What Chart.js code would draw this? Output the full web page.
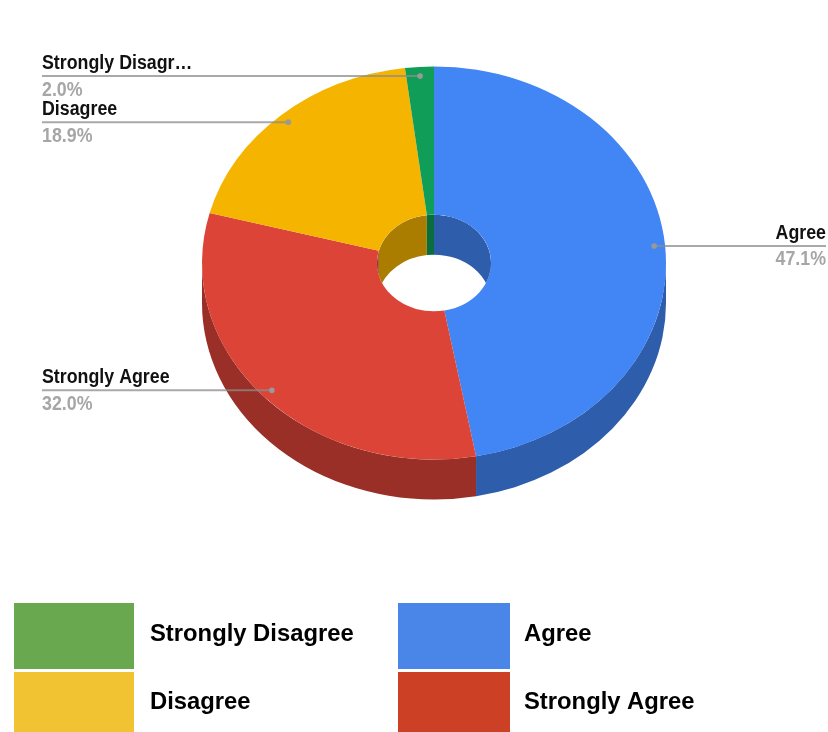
<!DOCTYPE html>
<html>
<head>
<meta charset="utf-8">
<title>Survey responses</title>
<script src="https://cdn.jsdelivr.net/npm/chart.js@4"></script>
<style>
  html, body { margin: 0; padding: 0; background: #fff; }
  canvas { display: block; }
</style>
</head>
<body>
<canvas id="pie" width="828" height="732"></canvas>
<script>
const categories = ['Agree', 'Strongly Agree', 'Disagree', 'Strongly Disagree'];
const calloutLabels = ['Agree', 'Strongly Agree', 'Disagree', 'Strongly Disagr\u2026'];
const percents = [47.1, 32.0, 18.9, 2.0];
const sliceColors = ['#4285f4', '#db4437', '#f4b400', '#0f9d58'];
const wallColors = ['#2e5dab', '#992f26', '#aa7d00', '#0a6d3d'];
const legendColors = ['#4a86e8', '#cc4125', '#f1c232', '#6aa84f'];

const TILT = 0.847;
const DEPTH = 40;
const FONT = '"Liberation Sans", Arial, sans-serif';

function arcProps(chart) {
  return chart.getDatasetMeta(0).data.map(a =>
    a.getProps(['x', 'y', 'startAngle', 'endAngle', 'innerRadius', 'outerRadius'], true));
}

// band between an ellipse arc and the same arc pushed down by DEPTH
function fillWall(ctx, p, r, from, to, color) {
  const a = Math.max(p.startAngle, from);
  const b = Math.min(p.endAngle, to);
  if (b <= a) return;
  ctx.beginPath();
  ctx.ellipse(p.x, p.y, r, r * TILT, 0, a, b);
  ctx.ellipse(p.x, p.y + DEPTH, r, r * TILT, 0, b, a, true);
  ctx.closePath();
  ctx.fillStyle = color;
  ctx.fill();
}

function squeezedText(ctx, text, x, y, align, color) {
  ctx.save();
  ctx.translate(x, y);
  ctx.scale(0.89, 1);
  ctx.font = 'bold 20px ' + FONT;
  ctx.textAlign = align;
  ctx.textBaseline = 'alphabetic';
  ctx.fillStyle = color;
  ctx.fillText(text, 0, 0);
  ctx.restore();
}

const pie3d = {
  id: 'pie3d',
  beforeDatasetsDraw(chart) {
    const ctx = chart.ctx;
    const arcs = arcProps(chart);
    arcs.forEach((p, i) => fillWall(ctx, p, p.outerRadius, 0, Math.PI, wallColors[i]));
    // squash the round doughnut into the tilted ellipse
    const c = arcs[0];
    ctx.save();
    ctx.translate(c.x, c.y);
    ctx.scale(1, TILT);
    ctx.translate(-c.x, -c.y);
  },
  afterDatasetsDraw(chart) {
    const ctx = chart.ctx;
    ctx.restore();
    const arcs = arcProps(chart);
    const c = arcs[0];

    // inside wall of the hole, only the far half shows
    ctx.save();
    ctx.beginPath();
    ctx.ellipse(c.x, c.y, c.innerRadius, c.innerRadius * TILT, 0, 0, Math.PI * 2);
    ctx.clip();
    arcs.forEach((p, i) => {
      fillWall(ctx, p, p.innerRadius, -Math.PI, 0, wallColors[i]);
      fillWall(ctx, p, p.innerRadius, Math.PI, Math.PI * 2, wallColors[i]);
    });
    ctx.restore();

    // callouts
    arcs.forEach((p, i) => {
      const mid = (p.startAngle + p.endAngle) / 2;
      const r = p.outerRadius * 0.953;
      const dx = p.x + Math.cos(mid) * r;
      const dy = p.y + Math.sin(mid) * r * TILT;
      const right = Math.cos(mid) > 0;
      const edge = right ? 826 : 42;
      ctx.strokeStyle = 'rgba(140,140,140,0.75)';
      ctx.lineWidth = 2;
      ctx.beginPath();
      ctx.moveTo(dx, dy);
      ctx.lineTo(edge, dy);
      ctx.stroke();
      ctx.beginPath();
      ctx.arc(dx, dy, 2.8, 0, Math.PI * 2);
      ctx.fillStyle = '#999999';
      ctx.fill();
      const align = right ? 'right' : 'left';
      squeezedText(ctx, calloutLabels[i], edge, dy - 7, align, '#111111');
      squeezedText(ctx, percents[i].toFixed(1) + '%', edge, dy + 19.5, align, '#a6a6a6');
    });

    // legend blocks under the pie
    const slots = [[398, 603, 112, 66], [398, 672, 112, 60], [14, 672, 120, 60], [14, 603, 120, 66]];
    categories.forEach((name, i) => {
      const s = slots[i];
      ctx.fillStyle = legendColors[i];
      ctx.fillRect(s[0], s[1], s[2], s[3]);
      ctx.font = 'bold 23.8px ' + FONT;
      ctx.textAlign = 'left';
      ctx.textBaseline = 'alphabetic';
      ctx.fillStyle = '#000000';
      ctx.fillText(name, s[0] < 200 ? 150 : 524, s[1] < 650 ? 641 : 709);
    });
  }
};

new Chart(document.getElementById('pie'), {
  type: 'doughnut',
  plugins: [pie3d],
  data: {
    labels: categories,
    datasets: [{
      data: percents,
      backgroundColor: sliceColors,
      borderWidth: 0
    }]
  },
  options: {
    responsive: false,
    animation: false,
    cutout: '24.6%',
    layout: { padding: { left: 202, right: 162, top: 31, bottom: 237 } },
    plugins: {
      legend: { display: false },
      tooltip: { enabled: false }
    }
  }
});
</script>
</body>
</html>
